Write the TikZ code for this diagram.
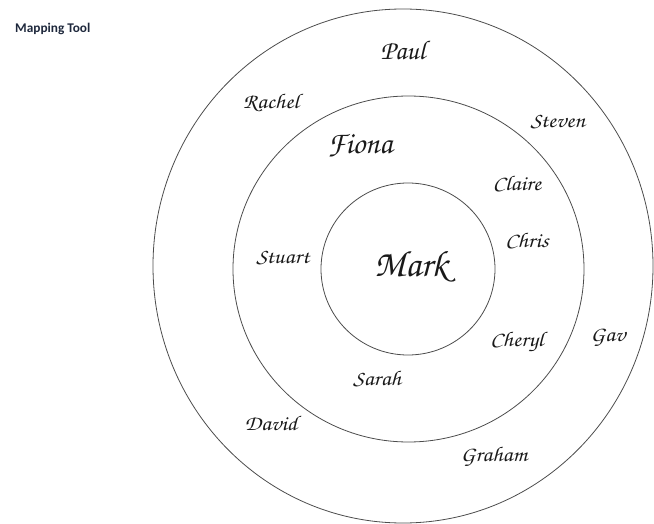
\documentclass[tikz,border=0pt]{standalone}
\usepackage{fontspec}
\newfontfamily\handfont[Extension=.otf]{texgyrechorus-mediumitalic}
\newfontfamily\titlefont{Carlito}
\newcommand{\wide}[1]{\scalebox{1.12}[1]{#1}}
\tikzset{
  ring/.style={draw=black!70, line width=0.8pt},
  nm/.style={font=\handfont\fontsize{21}{21}\selectfont, text=black!90, inner sep=0pt},
  big/.style={font=\handfont\fontsize{27}{27}\selectfont, text=black!90, inner sep=0pt},
  bigger/.style={font=\handfont\fontsize{31}{31}\selectfont, text=black!90, inner sep=0pt},
  huge/.style={font=\handfont\fontsize{37}{37}\selectfont, text=black!90, inner sep=0pt},
}
\begin{document}
\begin{tikzpicture}[x=1pt,y=-1pt]
\useasboundingbox (0,0) rectangle (654,524);
\node[font=\titlefont\bfseries\fontsize{13.3}{13.3}\selectfont, text={rgb,255:red,30;green,40;blue,60}, anchor=west, inner sep=0pt] (title) at (15,29) {Mapping Tool};
\draw[ring] (403,266) ellipse [x radius=250, y radius=257];
\draw[ring] (408.5,269) ellipse [x radius=175.5, y radius=173];
\draw[ring] (408,269) ellipse [x radius=87, y radius=86];
\node[big] (paul) at (403,51) {Paul};
\node[nm] (rachel) at (271,103) {\wide{Rachel}};
\node[nm] (steven) at (558,122) {\wide{Steven}};
\node[bigger] (fiona) at (360,146) {Fiona};
\node[nm] (claire) at (517,184) {\wide{Claire}};
\node[nm] (chris) at (527,241) {\wide{Chris}};
\node[nm] (stuart) at (283,258) {\wide{Stuart}};
\node[huge] (mark) at (411,267) {Mark};
\node[nm] (gav) at (608,338) {\wide{Gav}};
\node[nm] (cheryl) at (517,342) {\wide{Cheryl}};
\node[nm] (sarah) at (377,379) {\wide{Sarah}};
\node[nm] (david) at (271,424) {\wide{David}};
\node[nm] (graham) at (494,457) {\wide{Graham}};
\end{tikzpicture}
\end{document}
